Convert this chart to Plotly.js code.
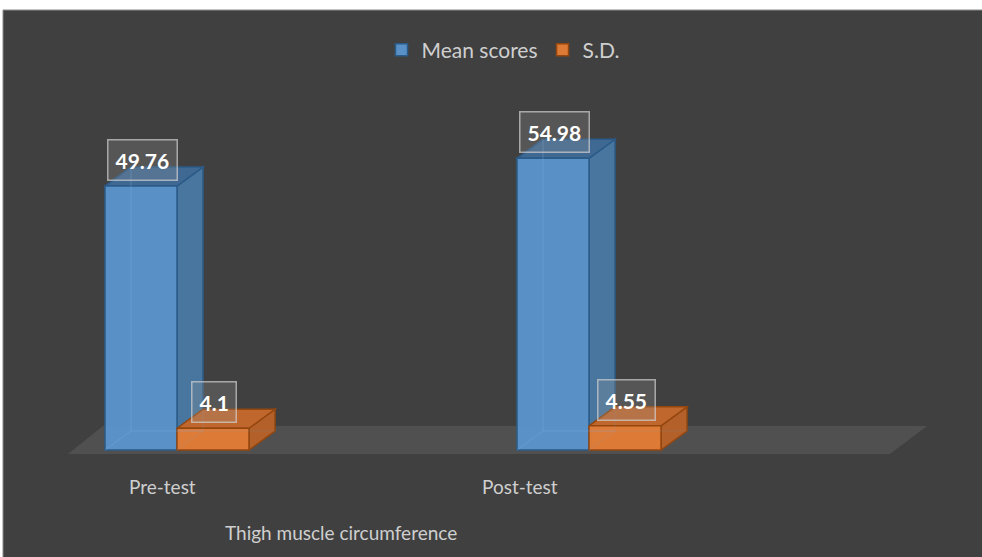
<!DOCTYPE html>
<html>
<head>
<meta charset="utf-8">
<script src="https://cdn.plot.ly/plotly-3.0.1.min.js"></script>
<style>html,body{margin:0;padding:0;background:#fff;}#chart{width:982px;height:557px;}</style>
</head>
<body>
<div id="chart"></div>
<script>
// ---- data ----
const categories = ["Pre-test", "Post-test"];
const seriesNames = ["Mean scores", "S.D."];
const meanScores = [49.76, 54.98];
const sdValues = [4.1, 4.55];
const axisTitle = "Thigh muscle circumference";

// ---- styling / geometry ----
const W = 982, H = 557;
const catPx = 412, firstCatPx = 177;       // pixel spacing of categories
const baselinePx = 450, pxPerUnit = 5.305; // value scale
const barPx = 72;                           // front-face width
const depthX = 26, depthY = 19;             // 3D offset in px
const xr = [-firstCatPx / catPx, (W - firstCatPx) / catPx];
const yr = [-(H - baselinePx) / pxPerUnit, baselinePx / pxPerUnit];
const bw = barPx / catPx;
const dx = depthX / catPx, dy = depthY / pxPerUnit;

const styles = [
  {front: "rgba(91,150,207,0.95)", side: "#48769f", top: "#3f6892", edge: "#2b5b88"},
  {front: "rgba(226,124,54,0.97)", side: "#b3602a", top: "#c0672d", edge: "#93470f"}
];
const offsets = [-bw, 0];
const allSeries = [meanScores, sdValues];

const traces = allSeries.map((vals, s) => ({
  type: "bar",
  name: seriesNames[s],
  x: categories.map((c, i) => i),
  y: vals,
  width: categories.map(() => bw),
  offset: categories.map(() => offsets[s]),
  marker: {color: styles[s].front, line: {color: styles[s].edge, width: 1.5}},
  hoverinfo: "skip"
}));

const shapes = [];
// dark frame
shapes.push({type: "rect", xref: "paper", yref: "paper", x0: 3 / W, x1: 1.01, y0: -0.01, y1: 1 - 10 / H,
  fillcolor: "#404040", line: {color: "#8a8a8a", width: 1}, layer: "below"});
// floor
const fl = 68, fr = 890, ffy = 454;
shapes.push({type: "path", xref: "paper", yref: "paper", layer: "below",
  path: `M${fl / W},${1 - ffy / H} L${fr / W},${1 - ffy / H} L${(fr + 37) / W},${1 - (ffy - 28) / H} L${(fl + 35) / W},${1 - (ffy - 28) / H} Z`,
  fillcolor: "#505050", line: {width: 0}});

// 3D faces
allSeries.forEach((vals, s) => {
  vals.forEach((v, i) => {
    const xl = i + offsets[s], xrt = xl + bw;
    shapes.push({type: "path", xref: "x", yref: "y", layer: "below",
      path: `M${xrt},0 L${xrt + dx},${dy} L${xrt + dx},${v + dy} L${xrt},${v} Z`,
      fillcolor: styles[s].side, line: {color: styles[s].edge, width: 1.5}});
    shapes.push({type: "path", xref: "x", yref: "y", layer: "below",
      path: `M${xl},${v} L${xl + dx},${v + dy} L${xrt + dx},${v + dy} L${xrt},${v} Z`,
      fillcolor: styles[s].top, line: {color: styles[s].edge, width: 1.5}});
    // faint hidden edges seen through translucent front
    shapes.push({type: "path", xref: "x", yref: "y", layer: "above",
      path: `M${xl + dx},${v + dy} L${xl + dx},${dy} L${xrt + dx},${dy} M${xl},0 L${xl + dx},${dy}`,
      line: {color: "rgba(120,175,225,0.35)", width: 1}, opacity: s === 0 ? 1 : 0.4});
  });
});

const annotations = [];
allSeries.forEach((vals, s) => {
  vals.forEach((v, i) => {
    annotations.push({x: i + offsets[s] + bw / 2, y: v, xref: "x", yref: "y",
      text: "<b>" + v + "</b>", showarrow: false, yshift: 26, xshift: 1,
      font: {family: "Lato, 'Open Sans', sans-serif", size: 21, color: "#ffffff"},
      bgcolor: "rgba(150,150,150,0.25)", bordercolor: "rgba(210,210,210,0.7)", borderwidth: 1.5, borderpad: 7});
  });
});
const tickShift = [-15, -69];
categories.forEach((c, i) => {
  annotations.push({x: i, y: 1 - 486 / H, xref: "x", yref: "paper", yanchor: "middle", xanchor: "center",
    text: c, showarrow: false,
    xshift: tickShift[i], font: {family: "Lato, sans-serif", size: 19, color: "#cfcfcf"}});
});
annotations.push({x: 341 / W, y: 1 - 532 / H, xref: "paper", yref: "paper", yanchor: "middle", xanchor: "center",
  text: axisTitle, showarrow: false,
  font: {family: "Lato, sans-serif", size: 19, color: "#cfcfcf"}});

const layout = {
  width: W, height: H,
  margin: {l: 0, r: 0, t: 0, b: 0},
  paper_bgcolor: "#ffffff", plot_bgcolor: "rgba(0,0,0,0)",
  barmode: "overlay",
  xaxis: {range: xr, showgrid: false, zeroline: false, showticklabels: false, showline: false, fixedrange: true},
  yaxis: {range: yr, showgrid: false, zeroline: false, showticklabels: false, showline: false, fixedrange: true},
  showlegend: true,
  legend: {orientation: "h", x: 381.5 / W, xanchor: "left", y: 1 - 50 / H, yanchor: "middle",
    font: {family: "Lato, sans-serif", size: 21, color: "#cfcfcf"}, bgcolor: "rgba(0,0,0,0)", traceorder: "normal"},
  shapes: shapes,
  annotations: annotations
};
Plotly.newPlot("chart", traces, layout, {displayModeBar: false, staticPlot: true});
</script>
</body>
</html>
